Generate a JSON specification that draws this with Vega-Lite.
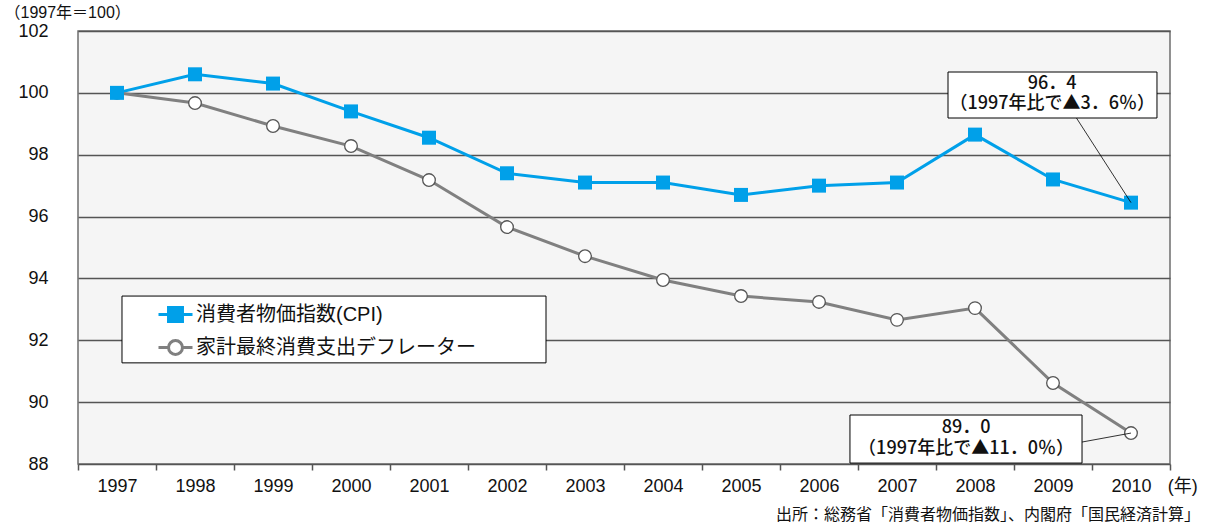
{
  "$schema": "https://vega.github.io/schema/vega-lite/v6.json",
  "autosize": {"type": "none"},
  "padding": {"left": 78, "top": 31, "right": 47, "bottom": 64},
  "width": 1092,
  "height": 433,
  "background": "white",
  "config": {
    "view": {"stroke": "#6e6e6e", "strokeWidth": 1.5, "fill": "#f5f5f5"},
    "font": "Liberation Sans"
  },
  "data": {"values": [
    {"year": 1997, "series": "消費者物価指数(CPI)", "value": 100.0},
    {"year": 1998, "series": "消費者物価指数(CPI)", "value": 100.6},
    {"year": 1999, "series": "消費者物価指数(CPI)", "value": 100.3},
    {"year": 2000, "series": "消費者物価指数(CPI)", "value": 99.4},
    {"year": 2001, "series": "消費者物価指数(CPI)", "value": 98.55},
    {"year": 2002, "series": "消費者物価指数(CPI)", "value": 97.4},
    {"year": 2003, "series": "消費者物価指数(CPI)", "value": 97.1},
    {"year": 2004, "series": "消費者物価指数(CPI)", "value": 97.1},
    {"year": 2005, "series": "消費者物価指数(CPI)", "value": 96.7},
    {"year": 2006, "series": "消費者物価指数(CPI)", "value": 97.0},
    {"year": 2007, "series": "消費者物価指数(CPI)", "value": 97.1},
    {"year": 2008, "series": "消費者物価指数(CPI)", "value": 98.65},
    {"year": 2009, "series": "消費者物価指数(CPI)", "value": 97.2},
    {"year": 2010, "series": "消費者物価指数(CPI)", "value": 96.45},
    {"year": 1997, "series": "家計最終消費支出デフレーター", "value": 100.0},
    {"year": 1998, "series": "家計最終消費支出デフレーター", "value": 99.67},
    {"year": 1999, "series": "家計最終消費支出デフレーター", "value": 98.93},
    {"year": 2000, "series": "家計最終消費支出デフレーター", "value": 98.28},
    {"year": 2001, "series": "家計最終消費支出デフレーター", "value": 97.18},
    {"year": 2002, "series": "家計最終消費支出デフレーター", "value": 95.66},
    {"year": 2003, "series": "家計最終消費支出デフレーター", "value": 94.72},
    {"year": 2004, "series": "家計最終消費支出デフレーター", "value": 93.95},
    {"year": 2005, "series": "家計最終消費支出デフレーター", "value": 93.43},
    {"year": 2006, "series": "家計最終消費支出デフレーター", "value": 93.24},
    {"year": 2007, "series": "家計最終消費支出デフレーター", "value": 92.66},
    {"year": 2008, "series": "家計最終消費支出デフレーター", "value": 93.04},
    {"year": 2009, "series": "家計最終消費支出デフレーター", "value": 90.62},
    {"year": 2010, "series": "家計最終消費支出デフレーター", "value": 89.0}
  ]},
  "encoding": {
    "x": {"field": "year", "type": "quantitative",
      "scale": {"domain": [1996.5, 2010.5], "nice": false, "zero": false},
      "axis": {
        "title": null, "grid": false, "domain": false,
        "values": [1996.5, 1997, 1997.5, 1998, 1998.5, 1999, 1999.5, 2000, 2000.5, 2001, 2001.5, 2002, 2002.5, 2003, 2003.5, 2004, 2004.5, 2005, 2005.5, 2006, 2006.5, 2007, 2007.5, 2008, 2008.5, 2009, 2009.5, 2010, 2010.5],
        "labelExpr": "datum.value % 1 === 0 ? '' + datum.value : ''",
        "tickSize": 6, "tickColor": "#555", "tickWidth": 1.5,
        "tickOpacity": {"condition": {"test": "datum.value % 1 === 0", "value": 0}, "value": 1},
        "labelFont": "Liberation Sans", "labelFontSize": 18, "labelColor": "#111",
        "labelPadding": 7, "labelFlush": false, "labelOverlap": false
      }
    },
    "y": {"field": "value", "type": "quantitative",
      "scale": {"domain": [88, 102], "nice": false, "zero": false},
      "axis": {
        "title": "（1997年＝100）", "titleAngle": 0, "titleAlign": "left", "titleBaseline": "middle",
        "titleX": -74, "titleY": -19, "titleFont": "Liberation Sans, Noto Sans CJK JP", "titleFontSize": 16, "titleFontWeight": "normal", "titleColor": "#111",
        "values": [88, 90, 92, 94, 96, 98, 100, 102],
        "grid": true, "gridColor": "#555", "gridWidth": 1.3,
        "domain": false, "ticks": false,
        "labelFont": "Liberation Sans", "labelFontSize": 18, "labelColor": "#111", "labelPadding": 30
      }
    }
  },
  "layer": [
    {
      "transform": [{"filter": "datum.year === 1997 && datum.series === '消費者物価指数(CPI)'"}],
      "mark": {"type": "rect", "fill": "white", "stroke": "black", "strokeWidth": 1},
      "encoding": {
        "x": {"datum": 1997.064, "type": "quantitative"},
        "x2": {"datum": 2002.5},
        "y": {"datum": 93.43, "type": "quantitative"},
        "y2": {"datum": 91.27}
      }
    },
    {
      "mark": {"type": "line", "strokeWidth": 3},
      "encoding": {
        "color": {"field": "series", "type": "nominal",
          "scale": {"domain": ["消費者物価指数(CPI)", "家計最終消費支出デフレーター"], "range": ["#00a0e9", "#808080"]},
          "legend": {
            "orient": "none", "legendX": 79, "legendY": 265, "padding": 0,
            "title": null, "symbolSize": 1156, "symbolStrokeWidth": 3,
            "labelFont": "Liberation Sans, Noto Sans CJK JP", "labelFontSize": 20, "labelColor": "#111",
            "labelOffset": 2, "rowPadding": 1, "labelLimit": 400,
            "encode": {"symbols": {"update": {
              "shape": [
                {"test": "datum.value === '消費者物価指数(CPI)'", "value": "M-1,0H1M-0.41,-0.41H0.41V0.41H-0.41Z"},
                {"value": "M-1,0H-0.41M0.41,0H1M0.41,0A0.41,0.41 0 1,1 -0.41,0A0.41,0.41 0 1,1 0.41,0Z"}
              ],
              "fill": [
                {"test": "datum.value === '消費者物価指数(CPI)'", "value": "#00a0e9"},
                {"value": "white"}
              ]
            }}}
          }
        }
      }
    },
    {
      "transform": [{"filter": "datum.series === '家計最終消費支出デフレーター'"}],
      "mark": {"type": "point", "shape": "circle", "filled": false, "fill": "white", "fillOpacity": 1, "stroke": "#555", "strokeWidth": 1.3, "size": 160, "opacity": 1}
    },
    {
      "transform": [{"filter": "datum.series === '消費者物価指数(CPI)'"}],
      "mark": {"type": "point", "shape": "square", "filled": true, "fill": "#00a0e9", "size": 196, "opacity": 1}
    },
    {
      "transform": [{"filter": "datum.year === 1997 && datum.series === '消費者物価指数(CPI)'"}],
      "mark": {"type": "rule", "color": "black", "strokeWidth": 0.8},
      "encoding": {
        "x": {"datum": 2009.3, "type": "quantitative"},
        "y": {"datum": 99.19, "type": "quantitative"},
        "x2": {"datum": 2010},
        "y2": {"datum": 96.45}
      }
    },
    {
      "transform": [{"filter": "datum.year === 1997 && datum.series === '消費者物価指数(CPI)'"}],
      "mark": {"type": "rule", "color": "black", "strokeWidth": 0.8},
      "encoding": {
        "x": {"datum": 2009.372, "type": "quantitative"},
        "y": {"datum": 88.71, "type": "quantitative"},
        "x2": {"datum": 2010},
        "y2": {"datum": 89.0}
      }
    },
    {
      "transform": [{"filter": "datum.year === 1997 && datum.series === '消費者物価指数(CPI)'"}],
      "mark": {"type": "rect", "fill": "white", "stroke": "black", "strokeWidth": 1},
      "encoding": {
        "x": {"datum": 2007.654, "type": "quantitative"},
        "x2": {"datum": 2010.333},
        "y": {"datum": 100.674, "type": "quantitative"},
        "y2": {"datum": 99.187}
      }
    },
    {
      "transform": [{"filter": "datum.year === 1997 && datum.series === '消費者物価指数(CPI)'"}],
      "mark": {"type": "rect", "fill": "white", "stroke": "black", "strokeWidth": 1},
      "encoding": {
        "x": {"datum": 2006.397, "type": "quantitative"},
        "x2": {"datum": 2009.372},
        "y": {"datum": 89.584, "type": "quantitative"},
        "y2": {"datum": 88.03}
      }
    },
    {
      "transform": [{"filter": "datum.year === 1997 && datum.series === '消費者物価指数(CPI)'"}],
      "mark": {"type": "text", "text": "96．4", "font": "Noto Sans CJK JP", "fontSize": 18, "fontWeight": 500, "color": "#111", "align": "center", "baseline": "middle"},
      "encoding": {
        "x": {"datum": 2008.99, "type": "quantitative"},
        "y": {"datum": 100.3, "type": "quantitative"}
      }
    },
    {
      "transform": [{"filter": "datum.year === 1997 && datum.series === '消費者物価指数(CPI)'"}],
      "mark": {"type": "text", "text": "（1997年比で▲3．6％）", "font": "Noto Sans CJK JP", "fontSize": 18, "fontWeight": 500, "color": "#111", "align": "center", "baseline": "middle"},
      "encoding": {
        "x": {"datum": 2008.99, "type": "quantitative"},
        "y": {"datum": 99.64, "type": "quantitative"}
      }
    },
    {
      "transform": [{"filter": "datum.year === 1997 && datum.series === '消費者物価指数(CPI)'"}],
      "mark": {"type": "text", "text": "89．0", "font": "Noto Sans CJK JP", "fontSize": 18, "fontWeight": 500, "color": "#111", "align": "center", "baseline": "middle"},
      "encoding": {
        "x": {"datum": 2007.885, "type": "quantitative"},
        "y": {"datum": 89.164, "type": "quantitative"}
      }
    },
    {
      "transform": [{"filter": "datum.year === 1997 && datum.series === '消費者物価指数(CPI)'"}],
      "mark": {"type": "text", "text": "（1997年比で▲11．0％）", "font": "Noto Sans CJK JP", "fontSize": 18, "fontWeight": 500, "color": "#111", "align": "center", "baseline": "middle"},
      "encoding": {
        "x": {"datum": 2007.885, "type": "quantitative"},
        "y": {"datum": 88.48, "type": "quantitative"}
      }
    },
    {
      "transform": [{"filter": "datum.year === 1997 && datum.series === '消費者物価指数(CPI)'"}],
      "mark": {"type": "text", "text": "(年)", "font": "Liberation Sans, Noto Sans CJK JP", "fontSize": 18, "color": "#111", "align": "left", "baseline": "middle"},
      "encoding": {
        "x": {"datum": 2010.47, "type": "quantitative"},
        "y": {"datum": 87.25, "type": "quantitative"}
      }
    },
    {
      "transform": [{"filter": "datum.year === 1997 && datum.series === '消費者物価指数(CPI)'"}],
      "mark": {"type": "text", "text": "出所：総務省「消費者物価指数」、内閣府「国民経済計算」", "font": "Liberation Sans, Noto Sans CJK JP", "fontSize": 16, "color": "#111", "align": "right", "baseline": "middle"},
      "encoding": {
        "x": {"datum": 2010.885, "type": "quantitative"},
        "y": {"datum": 86.35, "type": "quantitative"}
      }
    }
  ]
}
